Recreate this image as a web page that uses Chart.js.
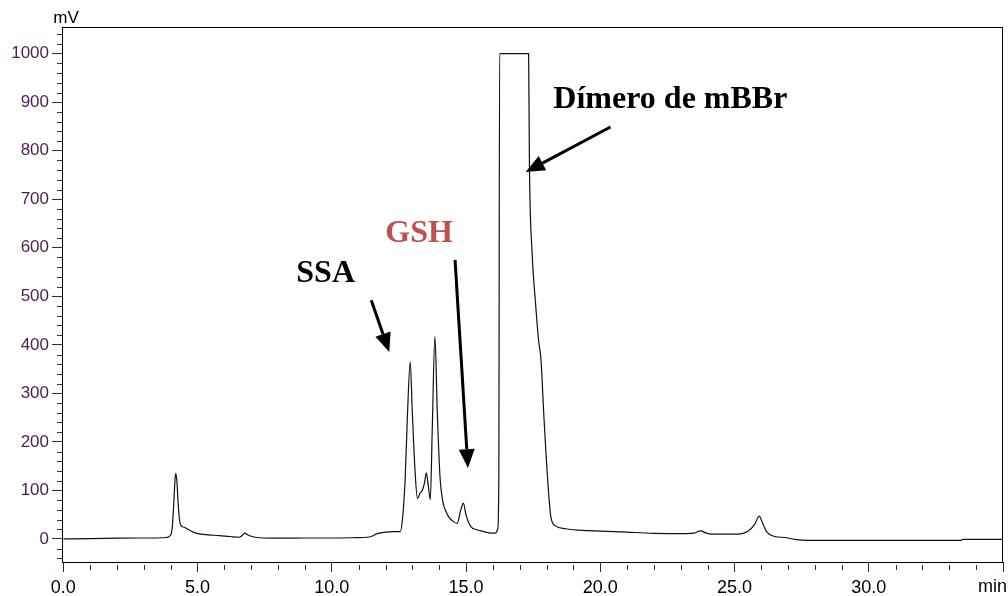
<!DOCTYPE html>
<html>
<head>
<meta charset="utf-8">
<script src="https://cdn.jsdelivr.net/npm/chart.js@4.4.1/dist/chart.umd.min.js"></script>
<style>
  body { margin: 0; background: #fff; }
  #wrap { width: 1008px; height: 596px; }
</style>
</head>
<body>
<div id="wrap"><canvas id="chromChart" width="1008" height="596"></canvas></div>
<script>
// retention time (min) and detector signal (mV)
const timeMin = [
  0.0, 1.0, 2.0, 2.8, 3.5, 3.85, 3.98, 4.05, 4.11, 4.16, 4.19, 4.23, 4.28, 4.33, 4.38, 4.5, 4.7,
  5.0, 5.4, 5.8, 6.2, 6.55, 6.68, 6.76, 6.88, 7.05, 7.3, 8.0, 9.0, 10.0, 10.8, 11.4, 11.7, 12.0,
  12.3, 12.55, 12.63, 12.73, 12.82, 12.92, 13.0, 13.09, 13.19, 13.28, 13.37, 13.45, 13.52, 13.6,
  13.67, 13.74, 13.84, 13.93, 14.03, 14.14, 14.25, 14.36, 14.5, 14.67, 14.8, 14.9, 15.0, 15.17,
  15.4, 15.6, 15.97, 16.1, 16.18, 16.22, 16.25, 17.33, 17.36, 17.46, 17.58, 17.7, 17.79, 17.9,
  18.05, 18.16, 18.33, 18.7, 19.2, 19.57, 20.8, 22.0, 23.2, 23.5, 23.74, 23.95, 24.15, 25.1, 25.5,
  25.75, 25.92, 26.05, 26.19, 26.5, 26.87, 27.24, 27.74, 33.43, 33.5, 35.0
];
const signalMv = [
  0, 0.5, 1.5, 2, 2, 3, 7, 20, 70, 122, 135, 118, 70, 38, 28, 24, 18,
  11, 8.5, 7, 5, 3.5, 8, 12, 8, 4.5, 2.5, 1.5, 2, 2, 2.5, 4, 11, 14,
  15, 15, 40, 121, 259, 365, 259, 150, 83, 94, 100, 115, 136, 107,
  81, 224, 417, 259, 128, 76, 57, 45, 37, 32, 59, 74, 49, 26,
  19, 16, 12, 12, 20, 120, 1000, 1000, 775, 590, 492, 410, 370, 252,
  114, 45, 27, 21, 18, 17, 14.5, 11.5, 11, 12, 16.5, 12, 10, 10, 16,
  30, 47, 32, 15, 5, 3, -1, -3, -3, -1, -1
];

const xTickValues = [0, 5, 10, 15, 20, 25, 30, 35];
const xTickLabels = ["0.0", "5.0", "10.0", "15.0", "20.0", "25.0", "30.0", ""];
const yTickValues = [0, 100, 200, 300, 400, 500, 600, 700, 800, 900, 1000];
const yTickLabels = ["0", "100", "200", "300", "400", "500", "600", "700", "800", "900", "1000"];

const peakLabels = ["SSA", "GSH", "Dímero de mBBr"];

const TICK_COLOR = "#4b1d52";

// label and arrow placement, in data units (min, mV)
const notes = [
  { text: peakLabels[0], color: "#000", at: [9.77, 546], from: [11.47, 492], to: [12.14, 385] },
  { text: peakLabels[1], color: "#c0504d", at: [13.25, 630], from: [14.59, 575], to: [15.07, 146] },
  { text: peakLabels[2], color: "#000", at: [22.61, 905], from: [20.38, 849], to: [17.22, 756] },
];

function drawArrow(ctx, x1, y1, x2, y2) {
  const ang = Math.atan2(y2 - y1, x2 - x1);
  const headLen = 19, headW = 8;
  const bx = x2 - headLen * Math.cos(ang), by = y2 - headLen * Math.sin(ang);
  ctx.beginPath();
  ctx.moveTo(x1, y1);
  ctx.lineTo(bx, by);
  ctx.lineWidth = 3;
  ctx.strokeStyle = "#000";
  ctx.stroke();
  ctx.beginPath();
  ctx.moveTo(x2, y2);
  ctx.lineTo(bx + headW * Math.sin(ang), by - headW * Math.cos(ang));
  ctx.lineTo(bx - headW * Math.sin(ang), by + headW * Math.cos(ang));
  ctx.closePath();
  ctx.fillStyle = "#000";
  ctx.fill();
}

const extrasPlugin = {
  id: "extras",
  afterDraw(chart) {
    const ctx = chart.ctx;
    const a = chart.chartArea;
    const xs = chart.scales.x, ys = chart.scales.y;
    ctx.save();

    // frame round the plot
    ctx.strokeStyle = "#000";
    ctx.lineWidth = 1;
    ctx.strokeRect(a.left + 0.5, a.top + 0.5, a.right - a.left - 1, a.bottom - a.top);

    // minor ticks
    ctx.strokeStyle = TICK_COLOR;
    ctx.beginPath();
    for (let v = -40; v <= 1040; v += 20) {
      if (v % 100 === 0) continue;
      const y = Math.round(ys.getPixelForValue(v)) + 0.5;
      ctx.moveTo(a.left - 5, y);
      ctx.lineTo(a.left, y);
    }
    for (let t = 1; t < 35; t++) {
      if (t % 5 === 0) continue;
      const x = Math.round(xs.getPixelForValue(t)) + 0.5;
      ctx.moveTo(x, a.bottom + 3);
      ctx.lineTo(x, a.bottom + 8);
    }
    ctx.stroke();

    // unit labels
    ctx.fillStyle = "#000";
    ctx.font = "17px 'Liberation Sans', Arial, sans-serif";
    ctx.textBaseline = "middle";
    ctx.textAlign = "center";
    ctx.fillText("mV", a.left + 4, 18);
    ctx.font = "18px 'Liberation Sans', Arial, sans-serif";
    ctx.textAlign = "right";
    ctx.fillText("min", 1007, 587);

    // peak annotations
    ctx.font = "bold 32px 'Liberation Serif', 'Times New Roman', serif";
    ctx.textAlign = "center";
    notes.forEach((n) => {
      ctx.fillStyle = n.color;
      ctx.fillText(n.text, xs.getPixelForValue(n.at[0]), ys.getPixelForValue(n.at[1]));
      drawArrow(ctx,
        xs.getPixelForValue(n.from[0]), ys.getPixelForValue(n.from[1]),
        xs.getPixelForValue(n.to[0]), ys.getPixelForValue(n.to[1]));
    });
    ctx.restore();
  },
};

const points = timeMin.map((t, i) => ({ x: t, y: signalMv[i] }));

new Chart(document.getElementById("chromChart"), {
  type: "line",
  data: {
    datasets: [{
      data: points,
      borderColor: "#111",
      borderWidth: 1.2,
      pointRadius: 0,
      cubicInterpolationMode: "monotone",
      fill: false,
    }],
  },
  options: {
    responsive: false,
    animation: false,
    devicePixelRatio: 1,
    layout: { padding: { top: 27, right: 1, left: 0, bottom: 0 } },
    plugins: { legend: { display: false }, tooltip: { enabled: false } },
    scales: {
      x: {
        type: "linear",
        min: -0.05,
        max: 35,
        afterBuildTicks: (s) => { s.ticks = xTickValues.map((v) => ({ value: v })); },
        afterFit: (s) => { s.height = 34; },
        border: { display: true, color: "#000", width: 1 },
        grid: { drawOnChartArea: false, drawTicks: true, tickLength: 10, tickColor: TICK_COLOR },
        ticks: {
          autoSkip: false,
          maxRotation: 0,
          padding: 5,
          color: "#000",
          font: { family: "'Liberation Sans', Arial, sans-serif", size: 18 },
          callback: (v, i) => xTickLabels[i],
        },
      },
      y: {
        type: "linear",
        min: -47.5,
        max: 1055,
        afterBuildTicks: (s) => { s.ticks = yTickValues.map((v) => ({ value: v })); },
        afterFit: (s) => { s.width = 62; },
        border: { display: true, color: "#000", width: 1 },
        grid: { drawOnChartArea: false, drawTicks: true, tickLength: 10, tickColor: TICK_COLOR },
        ticks: {
          autoSkip: false,
          padding: 3,
          color: TICK_COLOR,
          font: { family: "'Liberation Sans', Arial, sans-serif", size: 17 },
          callback: (v, i) => yTickLabels[i],
        },
      },
    },
  },
  plugins: [extrasPlugin],
});
</script>
</body>
</html>
